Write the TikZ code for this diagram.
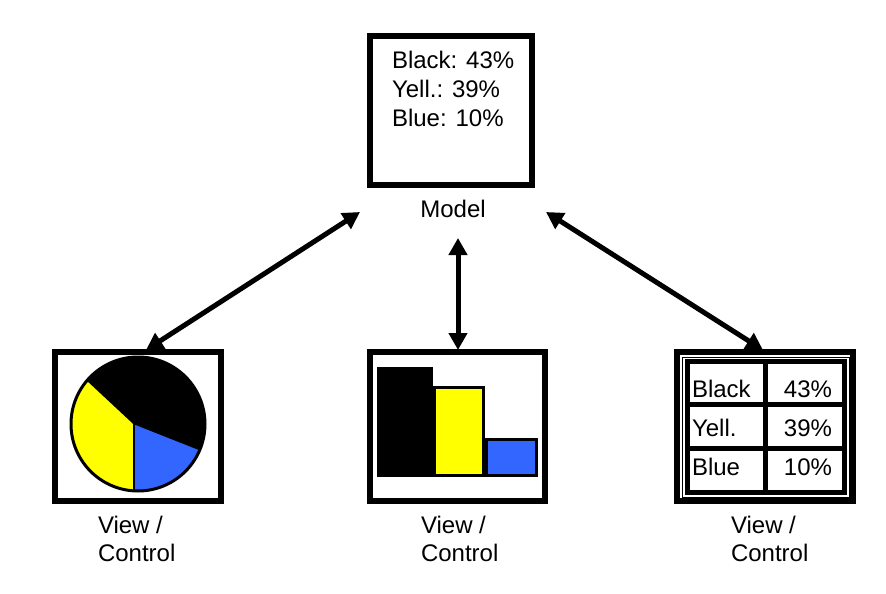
\documentclass[tikz,border=0pt]{standalone}
\usepackage{fontspec}
\setmainfont{Liberation Sans}
\usetikzlibrary{arrows.meta}
\definecolor{pieblue}{RGB}{51,102,255}
\definecolor{pieyellow}{RGB}{255,255,0}
\begin{document}
\begin{tikzpicture}[x=1pt,y=-1pt,
  frame/.style={draw=black, line width=6pt, inner sep=0pt, outer sep=0pt},
  txt/.style={font=\fontsize{24}{28.5}\selectfont, inner sep=0pt, outer sep=0pt},
  dblarrow/.style={line width=5pt, {Triangle[length=17pt,width=18pt]}-{Triangle[length=17pt,width=18pt]}},
  tabline/.style={line width=5pt},
  sep/.style={line width=2.5pt}]
\useasboundingbox[fill=white] (0,0) rectangle (886,594);

% model
\node[frame, minimum width=162pt, minimum height=149pt] (model) at (451,110.5) {};
\node[txt, anchor=base west] (m1) at (392,68) {Black: 43\%};
\node[txt, anchor=base west] (m2) at (392,97.5) {Yell.: 39\%};
\node[txt, anchor=base west] (m3) at (392,126) {Blue: 10\%};
\node[txt, anchor=base] (mlabel) at (453,217) {Model};

% view boxes
\node[frame, minimum width=166pt, minimum height=149pt] (vL) at (138,426.5) {};
\node[frame, minimum width=175pt, minimum height=149pt] (vM) at (457.5,426.5) {};
\node[frame, minimum width=176pt, minimum height=149pt] (vR) at (765,426.5) {};

% labels
\node[txt, anchor=base west] (lL1) at (98,533) {View /};
\node[txt, anchor=base west] (lL2) at (98,561) {Control};
\node[txt, anchor=base west] (lM1) at (421,533) {View /};
\node[txt, anchor=base west] (lM2) at (421,561) {Control};
\node[txt, anchor=base west] (lR1) at (731,533) {View /};
\node[txt, anchor=base west] (lR2) at (731,561) {Control};

% arrows
\coordinate (aL1) at (360,212);
\coordinate (aL2) at (146,350);
\coordinate (aM1) at (458,238);
\coordinate (aM2) at (458,350);
\coordinate (aR1) at (546,212);
\coordinate (aR2) at (763,350);
\draw[dblarrow] (aL1) -- (aL2);
\draw[dblarrow] (aM1) -- (aM2);
\draw[dblarrow] (aR1) -- (aR2);

% pie chart
\coordinate (pc) at (138,424);
\coordinate (pa) at (134,423);
\begin{scope}
  \clip (pc) circle[radius=67pt];
  \fill[black] (pc) circle[radius=67pt];
  \fill[pieyellow] (pa) -- +(137:120pt) -- +(200:120pt) -- +(270:120pt) -- cycle;
  \fill[pieblue] (pa) -- +(270:120pt) -- +(320:120pt) -- +(-21.6:120pt) -- cycle;
  \draw[sep] (pa) -- +(137:120pt);
  \draw[sep] (pa) -- +(270:120pt);
  \draw[sep] (pa) -- +(-21.6:120pt);
\end{scope}
\draw[line width=3pt] (pc) circle[radius=67pt];

% bar chart
\fill[black] (377,367) rectangle (433,477);
\filldraw[fill=pieyellow, draw=black, line width=3pt] (434.5,387.5) rectangle (483.5,475.5);
\filldraw[fill=pieblue, draw=black, line width=3pt] (486.5,439.5) rectangle (536.5,475.5);

% table
\draw[line width=1pt] (682.5,357) rectangle (849.5,497.5);
\draw[tabline] (687,361) rectangle (844.5,492);
\draw[tabline] (687,404.5) -- (844.5,404.5);
\draw[tabline] (687,448.5) -- (844.5,448.5);
\draw[tabline] (765,361) -- (765,492);
\node[txt, anchor=base west] (t11) at (692,397) {Black};
\node[txt, anchor=base west] (t21) at (692,436) {Yell.};
\node[txt, anchor=base west] (t31) at (692,475) {Blue};
\node[txt, anchor=base east] (t12) at (832,397) {43\%};
\node[txt, anchor=base east] (t22) at (832,436) {39\%};
\node[txt, anchor=base east] (t32) at (832,475) {10\%};
\end{tikzpicture}
\end{document}
